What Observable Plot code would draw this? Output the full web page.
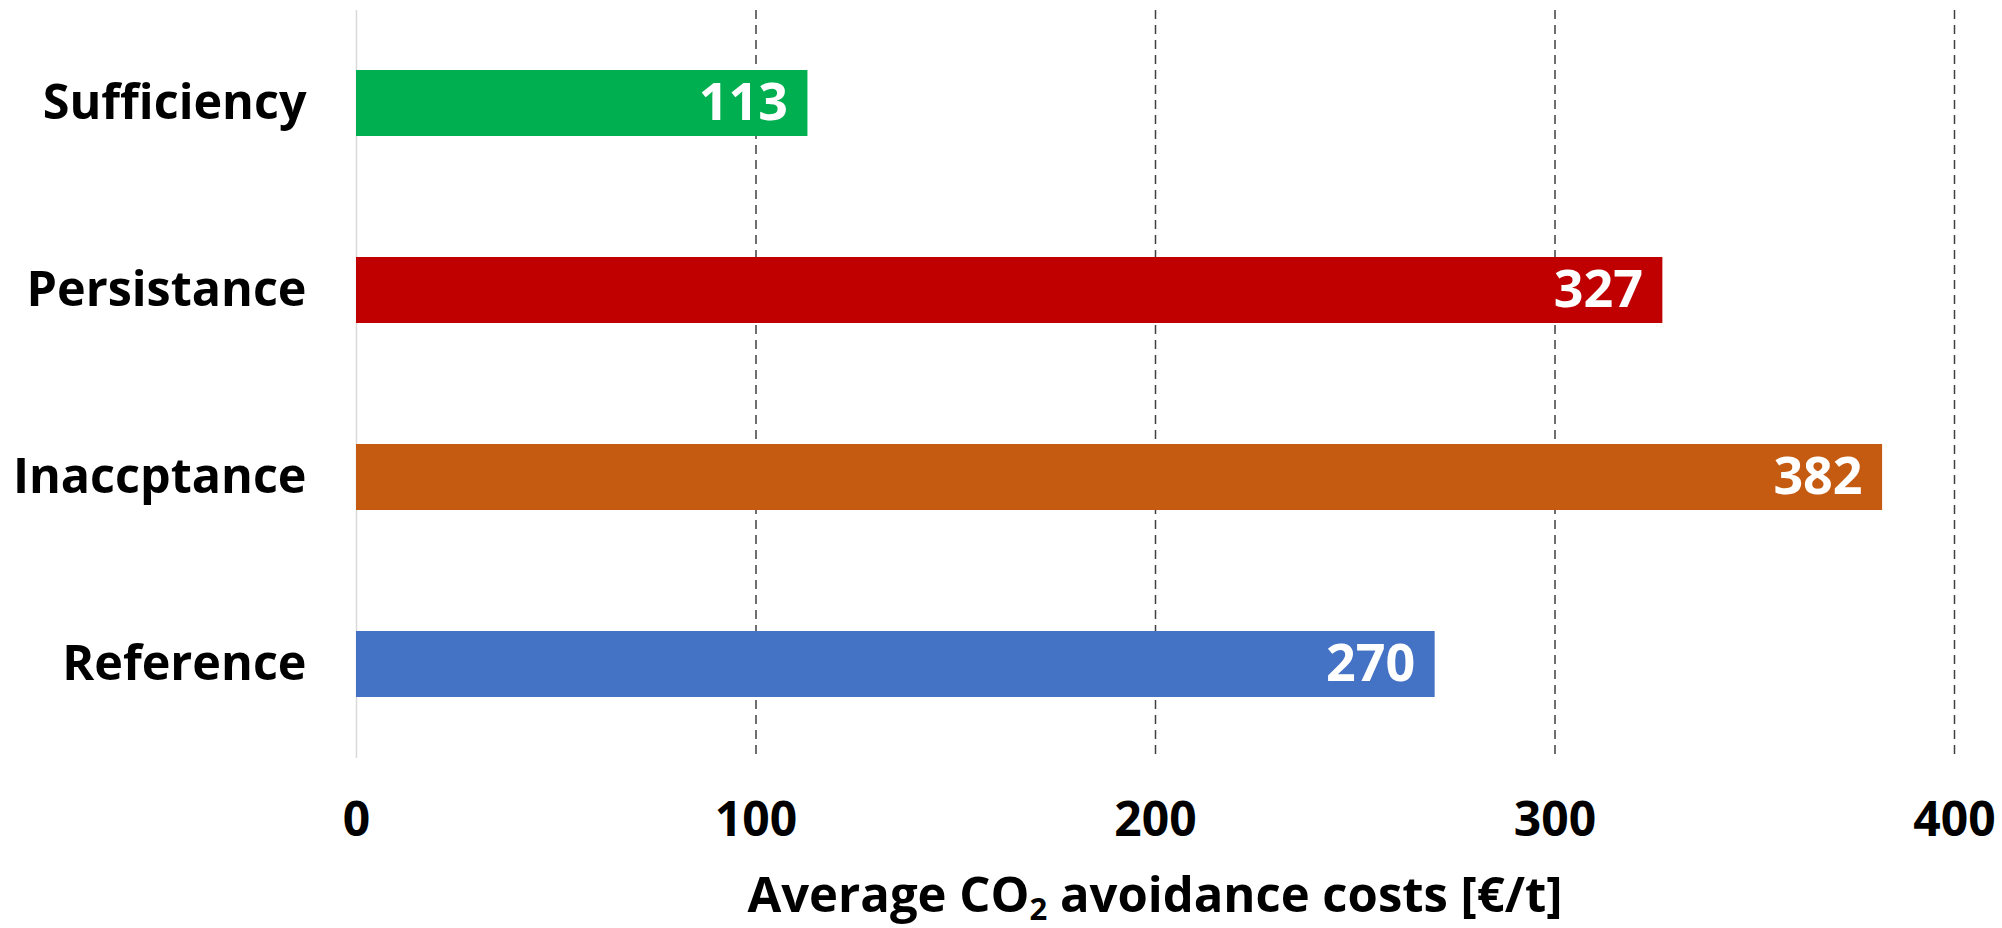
<!DOCTYPE html>
<html>
<head>
<meta charset="utf-8">
<script src="https://cdn.jsdelivr.net/npm/d3@7"></script>
<script src="https://cdn.jsdelivr.net/npm/@observablehq/plot@0.6"></script>
<style>
  html, body { margin: 0; padding: 0; background: #fff; }
</style>
</head>
<body>
<div id="chart"></div>
<script>
// Scenario names, top to bottom
const scenarios = ["Sufficiency", "Persistance", "Inaccptance", "Reference"];
// Average CO2 avoidance costs per scenario, €/t
const costs = [113, 327, 382, 270];
// Bar fill per scenario
const barColors = ["#00B050", "#C00000", "#C55A11", "#4472C4"];
// Value axis ticks
const xTicks = [0, 100, 200, 300, 400];
const gridTicks = [100, 200, 300, 400];

const rows = scenarios.map((s, i) => ({scenario: s, cost: costs[i], color: barColors[i]}));

const FONT = "'Open Sans', 'Noto Sans', sans-serif";

// Axis title with a subscripted "2" in CO2
function axisTitle(index, scales, values, dims) {
  const ns = "http://www.w3.org/2000/svg";
  const t = document.createElementNS(ns, "text");
  const cx = (dims.marginLeft + dims.width - dims.marginRight) / 2;
  t.setAttribute("x", cx);
  t.setAttribute("y", dims.height - 16);
  t.setAttribute("text-anchor", "middle");
  t.setAttribute("font-family", FONT);
  t.setAttribute("font-weight", "700");
  t.setAttribute("font-size", "49px");
  t.setAttribute("fill", "#000");
  const a = document.createElementNS(ns, "tspan");
  a.textContent = "Average CO";
  const sub = document.createElementNS(ns, "tspan");
  sub.textContent = "2";
  sub.setAttribute("font-size", "31px");
  sub.setAttribute("dy", "8");
  const b = document.createElementNS(ns, "tspan");
  b.textContent = " avoidance costs [€/t]";
  b.setAttribute("dy", "-8");
  t.append(a, sub, b);
  return t;
}

const chart = Plot.plot({
  width: 2002,
  height: 928,
  marginLeft: 356,
  marginRight: 48,
  marginTop: 10,
  marginBottom: 170,
  style: {fontFamily: FONT, fontWeight: 700, fontSize: "48px", color: "#000", background: "#fff"},
  x: {domain: [0, 400], ticks: xTicks},
  y: {domain: scenarios, paddingInner: 0.647, paddingOuter: 0.3235},
  marks: [
    Plot.gridX(gridTicks, {stroke: "#404040", strokeOpacity: 1, strokeWidth: 1.5, strokeDasharray: "9,6"}),
    Plot.ruleX([0], {stroke: "#d9d9d9", strokeWidth: 1.5}),
    Plot.barX(rows, {x: "cost", y: "scenario", fill: "color"}),
    Plot.text(rows, {x: "cost", y: "scenario", text: d => String(d.cost), textAnchor: "end", dx: -20, fill: "#fff", fontSize: 52, fontWeight: 700}),
    Plot.axisY({tickSize: 0, tickPadding: 50, label: null, fontSize: 48.5}),
    Plot.axisX({ticks: xTicks, tickSize: 0, tickPadding: 43, label: null, fontSize: 48}),
    axisTitle
  ]
});

document.getElementById("chart").appendChild(chart);
</script>
</body>
</html>
